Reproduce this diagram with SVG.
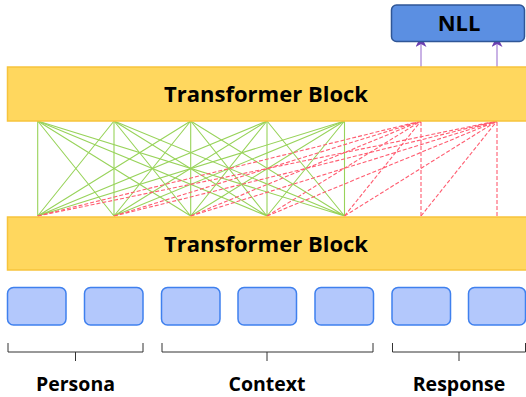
<svg xmlns="http://www.w3.org/2000/svg" width="526" height="397" viewBox="0 0 526 397">
<defs>
<style>
.blk{fill:#ffd75e;stroke:#f7c43c;stroke-width:1.5}
.blkt{font-family:"Open Sans","Noto Sans",sans-serif;font-weight:bold;font-size:22px;fill:#000;text-anchor:middle}
.tok{fill:#b3c8fc;stroke:#3f80ee;stroke-width:1.5}
.g{stroke:#98d35a;stroke-width:1.1;fill:none}
.r{stroke:#ff5c70;stroke-width:1.1;stroke-dasharray:4 2;fill:none}
.br{stroke:#333;stroke-width:1;fill:none}
.lbl{font-family:"Open Sans","Noto Sans",sans-serif;font-weight:bold;font-size:19.5px;fill:#000;text-anchor:middle}
.up{stroke:#a57fd4;stroke-width:1.2;fill:none;marker-end:url(#ah)}
</style>
<marker id="ah" markerWidth="11" markerHeight="11" refX="5" refY="5.5" orient="auto" markerUnits="userSpaceOnUse">
<path d="M0,0 L11,5.5 L0,11 L3,5.5 Z" fill="#6b3fb0"/>
</marker>
</defs>
<rect width="526" height="397" fill="#fff"/>
<g id="connectors">
<g id="green">
<path class="g" d="M37.7,216 L37.7,121 M37.7,216 L114,121 M37.7,216 L190.7,121 M37.7,216 L267,121 M37.7,216 L344.5,121"/>
<path class="g" d="M114,216 L37.7,121 M114,216 L114,121 M114,216 L190.7,121 M114,216 L267,121 M114,216 L344.5,121"/>
<path class="g" d="M190.7,216 L37.7,121 M190.7,216 L114,121 M190.7,216 L190.7,121 M190.7,216 L267,121 M190.7,216 L344.5,121"/>
<path class="g" d="M267,216 L37.7,121 M267,216 L114,121 M267,216 L190.7,121 M267,216 L267,121 M267,216 L344.5,121"/>
<path class="g" d="M344.5,216 L37.7,121 M344.5,216 L114,121 M344.5,216 L190.7,121 M344.5,216 L267,121 M344.5,216 L344.5,121"/>
</g>
<g id="red">
<path class="r" d="M37.7,216 L421,121 M114,216 L421,121 M190.7,216 L421,121 M267,216 L421,121 M344.5,216 L421,121 M421,216 L421,121"/>
<path class="r" d="M37.7,216 L497,121 M114,216 L497,121 M190.7,216 L497,121 M267,216 L497,121 M344.5,216 L497,121 M421,216 L497,121 M497,216 L497,121"/>
</g>
<g id="arrows">
<line class="up" x1="421" y1="67" x2="421" y2="42"/>
<line class="up" x1="497" y1="67" x2="497" y2="42"/>
</g>
</g>
<g id="nll">
<rect x="391.5" y="5" width="133" height="36.5" rx="5" fill="#5b8fe2" stroke="#2f5697" stroke-width="1.5"/>
<text class="blkt" x="459" y="31">NLL</text>
</g>
<g id="top-block">
<rect class="blk" x="7.5" y="67" width="525" height="54"/>
<text class="blkt" x="266" y="101.5">Transformer Block</text>
</g>
<g id="bottom-block">
<rect class="blk" x="7.5" y="217" width="525" height="53"/>
<text class="blkt" x="266" y="251.5">Transformer Block</text>
</g>
<g id="tokens">
<rect id="t1" class="tok" x="7.5" y="287.5" width="58.5" height="37.5" rx="6"/>
<rect id="t2" class="tok" x="84.5" y="287.5" width="58.5" height="37.5" rx="6"/>
<rect id="t3" class="tok" x="161.5" y="287.5" width="58.5" height="37.5" rx="6"/>
<rect id="t4" class="tok" x="238" y="287.5" width="58.5" height="37.5" rx="6"/>
<rect id="t5" class="tok" x="315" y="287.5" width="58.5" height="37.5" rx="6"/>
<rect id="t6" class="tok" x="392" y="287.5" width="58.5" height="37.5" rx="6"/>
<rect id="t7" class="tok" x="468.5" y="287.5" width="57" height="37.5" rx="6"/>
</g>
<g id="persona">
<path class="br" d="M8,343 L8,352 L143,352 L143,343 M75.5,352 L75.5,361"/>
<text class="lbl" x="75.5" y="391">Persona</text>
</g>
<g id="context">
<path class="br" d="M162,343 L162,352 L373,352 L373,343 M267,352 L267,361"/>
<text class="lbl" x="267" y="391">Context</text>
</g>
<g id="response">
<path class="br" d="M392.5,343 L392.5,352 L525.5,352 L525.5,343 M459,352 L459,361"/>
<text class="lbl" x="459" y="391">Response</text>
</g>
</svg>
